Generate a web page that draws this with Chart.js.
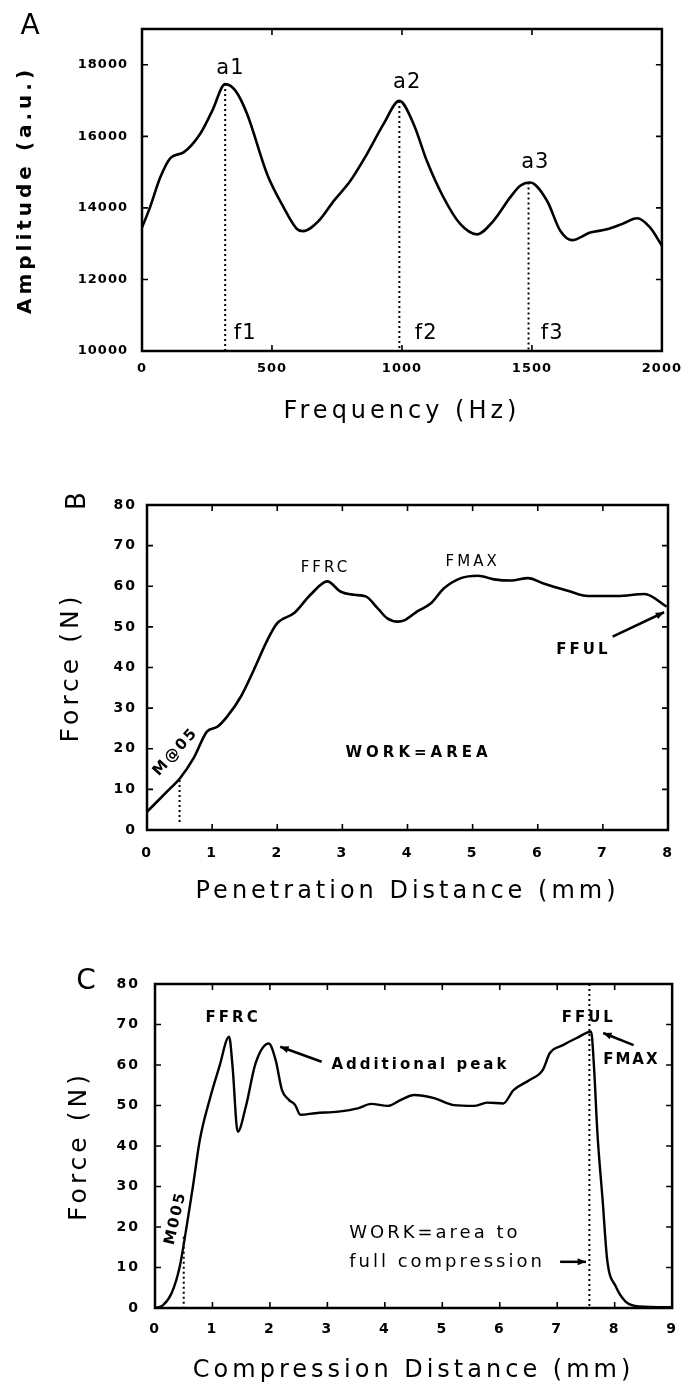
<!DOCTYPE html>
<html>
<head>
<meta charset="utf-8">
<script src="https://cdn.jsdelivr.net/npm/chart.js@4.4.1/dist/chart.umd.min.js"></script>
<style>
  html, body { margin: 0; padding: 0; background: #fff; }
  #page { position: relative; width: 690px; height: 1385px; }
  .panel { position: absolute; left: 0; width: 690px; }
</style>
</head>
<body>
<div id="page">
  <div class="panel" style="top:0;height:430px"><canvas id="chartA"></canvas></div>
  <div class="panel" style="top:440px;height:470px"><canvas id="chartB"></canvas></div>
  <div class="panel" style="top:920px;height:465px"><canvas id="chartC"></canvas></div>
</div>
<script>
// ---- panel A : spectrum ----
const freqHz = [0, 30, 70, 110, 160, 224, 270, 320, 360, 404, 481, 545, 596, 620, 680, 737, 801, 865, 929, 990,
  1045, 1096, 1160, 1224, 1288, 1352, 1417, 1455, 1493, 1558, 1609, 1654, 1724, 1788, 1850, 1904, 1955, 2000];
const amplitude = [13450, 14000, 14850, 15400, 15550, 16070, 16710, 17460, 17270, 16630, 14950, 14010, 13410, 13350, 13640,
  14190, 14750, 15500, 16340, 16990, 16340, 15310, 14290, 13550, 13260, 13640, 14300, 14620, 14710, 14200, 13360,
  13100, 13310, 13400, 13560, 13710, 13450, 12940];
const peakFreq = [320, 990, 1487];
const peakAmp = [17460, 16990, 14710];
const freqTicks = [0, 500, 1000, 1500, 2000];
const ampTicks = [10000, 12000, 14000, 16000, 18000];

// ---- panel B : penetration ----
const penDist = [0, 0.31, 0.51, 0.72, 0.92, 1.08, 1.23, 1.44, 1.64, 1.85, 2.0, 2.26, 2.51, 2.77, 2.97, 3.18, 3.36,
  3.54, 3.69, 3.85, 3.95, 4.15, 4.36, 4.56, 4.82, 5.08, 5.33, 5.59, 5.85, 6.1, 6.46, 6.77, 7.23, 7.64, 7.98];
const penForce = [4.5, 9.5, 12.8, 17.8, 24.2, 25.4, 27.9, 32.8, 39.4, 46.8, 50.9, 53.4, 57.9, 61.2, 58.7, 57.9, 57.5,
  54.6, 52.1, 51.3, 51.6, 53.8, 55.8, 59.5, 62.0, 62.6, 61.7, 61.4, 62.0, 60.6, 58.9, 57.6, 57.6, 58.1, 55.0];
const penMarkDist = [0.5, 0.5];
const penMarkForce = [12.3, 1.5];
const penTicksX = [0, 1, 2, 3, 4, 5, 6, 7, 8];
const forceTicks = [0, 10, 20, 30, 40, 50, 60, 70, 80];

// ---- panel C : compression ----
const compDist = [0, 0.14, 0.29, 0.43, 0.55, 0.66, 0.78, 0.95, 1.12, 1.29, 1.35, 1.44, 1.58, 1.75, 1.98, 2.10, 2.21,
  2.33, 2.44, 2.53, 2.79, 3.19, 3.53, 3.76, 4.05, 4.28, 4.51, 4.86, 5.2, 5.55, 5.78, 6.06, 6.24, 6.52, 6.75,
  6.87, 7.1, 7.33, 7.59, 7.64, 7.7, 7.79, 7.87, 8.02, 8.19, 8.42, 9.0];
const compForce = [0, 0.7, 3.7, 10.2, 20.1, 30, 41.5, 51.4, 59.6, 67.0, 59.6, 43.5, 49.7, 60.4, 65.3, 61.2, 53.8,
  51.4, 50.1, 47.7, 48.1, 48.5, 49.3, 50.4, 49.9, 51.4, 52.6, 51.8, 50.1, 49.9, 50.7, 50.5, 53.8, 56.3, 58.8,
  62.9, 64.9, 66.6, 68.2, 59.6, 43.1, 26.7, 11.9, 5.3, 1.6, 0.4, 0.2];
const compMarkDist = [0.5, 7.56];
const compMarkTop = [17.6, 80];
const compTicksX = [0, 1, 2, 3, 4, 5, 6, 7, 8, 9];

const FONT = '"DejaVu Sans", sans-serif';

function pts(xs, ys) { return xs.map((v, i) => ({ x: v, y: ys[i] })); }

function curve(data, width) {
  return { data, borderColor: '#000', borderWidth: width, pointRadius: 0, fill: false,
    cubicInterpolationMode: 'monotone' };
}
function dotted(x, y0, y1) {
  return { data: [{ x, y: y0 }, { x, y: y1 }], borderColor: '#000', borderWidth: 2,
    borderDash: [2, 3], pointRadius: 0, fill: false };
}

function axis(o) {
  return {
    type: 'linear', min: o.min, max: o.max,
    grid: { display: false, drawTicks: false },
    border: { display: false },
    afterBuildTicks: s => { s.ticks = o.ticks.map(v => ({ value: v })); },
    afterFit: s => { if (o.width) s.width = o.width; if (o.height) s.height = o.height; },
    ticks: { z: 1, color: '#000', padding: o.pad, autoSkip: false, maxRotation: 0,
      font: { family: FONT, weight: 'bold', size: o.tickSize || 13 },
      callback: v => String(v) },
    title: { display: true, text: o.title, color: '#000', padding: o.titlePad,
      font: { family: FONT, size: o.titleSize || 24, weight: o.titleWeight || 'normal' } }
  };
}

// frame, inward ticks and text notes
const framePlugin = {
  id: 'frame',
  beforeDraw(chart, args, opts) { chart.ctx.letterSpacing = opts.titleSpacing || '4px'; },
  beforeDatasetsDraw(chart, args, opts) { chart.ctx.letterSpacing = opts.tickSpacing || '2px'; },
  afterDraw(chart, args, opts) {
    const { ctx, chartArea: a, scales: { x, y } } = chart;
    ctx.save();
    ctx.letterSpacing = '0px';
    ctx.strokeStyle = '#000';
    ctx.fillStyle = '#000';
    ctx.lineWidth = 2.5;
    ctx.strokeRect(a.left, a.top, a.right - a.left, a.bottom - a.top);
    ctx.lineWidth = 1.6;
    const len = 6;
    ctx.beginPath();
    x.ticks.forEach(t => {
      const px = x.getPixelForValue(t.value);
      if (px <= a.left + 2 || px >= a.right - 2) return;
      ctx.moveTo(px, a.bottom); ctx.lineTo(px, a.bottom - len);
      ctx.moveTo(px, a.top); ctx.lineTo(px, a.top + len);
    });
    y.ticks.forEach(t => {
      const py = y.getPixelForValue(t.value);
      if (py <= a.top + 2 || py >= a.bottom - 2) return;
      ctx.moveTo(a.left, py); ctx.lineTo(a.left + len, py);
      ctx.moveTo(a.right, py); ctx.lineTo(a.right - len, py);
    });
    ctx.stroke();

    (opts.notes || []).forEach(n => {
      ctx.save();
      ctx.font = n.font;
      ctx.letterSpacing = n.spacing || '1px';
      ctx.textAlign = n.align || 'center';
      ctx.textBaseline = 'middle';
      ctx.translate(x.getPixelForValue(n.x), y.getPixelForValue(n.y));
      if (n.rotate) ctx.rotate(n.rotate * Math.PI / 180);
      ctx.fillText(n.text, 0, 0);
      ctx.restore();
    });

    (opts.arrows || []).forEach(r => {
      const x0 = x.getPixelForValue(r.from[0]), y0 = y.getPixelForValue(r.from[1]);
      const x1 = x.getPixelForValue(r.to[0]), y1 = y.getPixelForValue(r.to[1]);
      const ang = Math.atan2(y1 - y0, x1 - x0);
      ctx.lineWidth = 2.5;
      ctx.beginPath(); ctx.moveTo(x0, y0); ctx.lineTo(x1, y1); ctx.stroke();
      ctx.beginPath();
      ctx.moveTo(x1, y1);
      ctx.lineTo(x1 - 9 * Math.cos(ang - 0.4), y1 - 9 * Math.sin(ang - 0.4));
      ctx.lineTo(x1 - 9 * Math.cos(ang + 0.4), y1 - 9 * Math.sin(ang + 0.4));
      ctx.closePath(); ctx.fill();
    });

    if (opts.letter) {
      const L = opts.letter;
      ctx.save();
      ctx.font = L.font;
      ctx.textAlign = 'center';
      ctx.textBaseline = 'middle';
      ctx.translate(L.px, L.py);
      if (L.rotate) ctx.rotate(L.rotate * Math.PI / 180);
      ctx.fillText(L.text, 0, 0);
      ctx.restore();
    }
    ctx.restore();
  }
};

function baseOptions(layoutPad, scales, frame) {
  return {
    responsive: true, maintainAspectRatio: false, animation: false,
    layout: { padding: layoutPad },
    plugins: { legend: { display: false }, tooltip: { enabled: false }, frame },
    scales
  };
}

// A
new Chart(document.getElementById('chartA'), {
  type: 'line',
  data: {
    datasets: [
      curve(pts(freqHz, amplitude), 2.6),
      ...peakFreq.map((f, i) => dotted(f, peakAmp[i], 10000))
    ]
  },
  options: baseOptions({ top: 29, right: 27, left: 0, bottom: 0 }, {
    x: axis({ min: 0, max: 2000, ticks: freqTicks, height: 79, pad: 10, title: 'Frequency (Hz)',
      titlePad: { top: 0, bottom: 4 } }),
    y: axis({ min: 10000, max: 19000, ticks: ampTicks, width: 142, pad: 14, title: 'Amplitude (a.u.)',
      titleSize: 20, titleWeight: 'bold', titlePad: { top: 14, bottom: 0 } })
  }, {
    tickSpacing: '1px',
    letter: { text: 'A', px: 30, py: 27, font: '28px ' + FONT },
    notes: [
      { text: 'a1', x: 340, y: 17900, font: '21px ' + FONT },
      { text: 'a2', x: 1020, y: 17500, font: '21px ' + FONT },
      { text: 'a3', x: 1513, y: 15260, font: '21px ' + FONT },
      { text: 'f1', x: 397, y: 10480, font: '21px ' + FONT },
      { text: 'f2', x: 1093, y: 10480, font: '21px ' + FONT },
      { text: 'f3', x: 1578, y: 10480, font: '21px ' + FONT }
    ]
  }),
  plugins: [framePlugin]
});

// B
new Chart(document.getElementById('chartB'), {
  type: 'line',
  data: {
    datasets: [
      curve(pts(penDist, penForce), 2.6),
      dotted(penMarkDist[0], penMarkForce[0], penMarkForce[1])
    ]
  },
  options: baseOptions({ top: 65, right: 22, left: 0, bottom: 0 }, {
    x: axis({ min: 0, max: 8, ticks: penTicksX, height: 80, pad: 15, tickSize: 14,
      title: 'Penetration Distance (mm)', titlePad: { top: 0, bottom: 4 } }),
    y: axis({ min: 0, max: 80, ticks: forceTicks, width: 147, pad: 10, tickSize: 14,
      title: 'Force (N)', titleSize: 25, titlePad: { top: 56, bottom: 0 } })
  }, {
    tickSpacing: '2px',
    letter: { text: 'B', px: 78, py: 61, font: '26px ' + FONT, rotate: -90 },
    notes: [
      { text: 'FFRC', x: 2.74, y: 64.5, font: '15px ' + FONT, spacing: '3px' },
      { text: 'FMAX', x: 5.0, y: 66, font: '15px ' + FONT, spacing: '3px' },
      { text: 'FFUL', x: 6.70, y: 44.3, font: 'bold 15px ' + FONT, spacing: '3px' },
      { text: 'WORK=AREA', x: 4.17, y: 19, font: 'bold 15px ' + FONT, spacing: '4px' },
      { text: 'M@05', x: 0.44, y: 19.2, font: 'bold 15px ' + FONT, spacing: '2px', rotate: -48 }
    ],
    arrows: [{ from: [7.15, 47.6], to: [7.94, 53.6] }]
  }),
  plugins: [framePlugin]
});

// C
new Chart(document.getElementById('chartC'), {
  type: 'line',
  data: {
    datasets: [
      curve(pts(compDist, compForce), 2.4),
      ...compMarkDist.map((d, i) => dotted(d, compMarkTop[i], 0))
    ]
  },
  options: baseOptions({ top: 64, right: 13, left: 0, bottom: 0 }, {
    x: axis({ min: 0, max: 9, ticks: compTicksX, height: 77, pad: 13, tickSize: 14,
      title: 'Compression Distance (mm)', titlePad: { top: 0, bottom: 0 } }),
    y: axis({ min: 0, max: 80, ticks: forceTicks, width: 155, pad: 15, tickSize: 14,
      title: 'Force (N)', titleSize: 25, titlePad: { top: 64, bottom: 0 } })
  }, {
    tickSpacing: '2px',
    letter: { text: 'C', px: 86, py: 62, font: '28px ' + FONT },
    notes: [
      { text: 'FFRC', x: 1.36, y: 71.6, font: 'bold 15px ' + FONT, spacing: '3px' },
      { text: 'Additional peak', x: 3.07, y: 60, font: 'bold 15px ' + FONT, spacing: '3px', align: 'left' },
      { text: 'FFUL', x: 7.55, y: 71.6, font: 'bold 15px ' + FONT, spacing: '3px' },
      { text: 'FMAX', x: 8.29, y: 61.2, font: 'bold 15px ' + FONT, spacing: '2px' },
      { text: 'WORK=area to', x: 3.38, y: 18.5, font: '18px ' + FONT, spacing: '3px', align: 'left' },
      { text: 'full compression', x: 3.38, y: 11.4, font: '18px ' + FONT, spacing: '3px', align: 'left' },
      { text: 'M005', x: 0.36, y: 22.2, font: 'bold 15px ' + FONT, spacing: '2px', rotate: -77 }
    ],
    arrows: [
      { from: [2.9, 60.8], to: [2.18, 64.5] },
      { from: [8.33, 64.9], to: [7.8, 67.9] },
      { from: [7.05, 11.4], to: [7.5, 11.4] }
    ]
  }),
  plugins: [framePlugin]
});
</script>
</body>
</html>
